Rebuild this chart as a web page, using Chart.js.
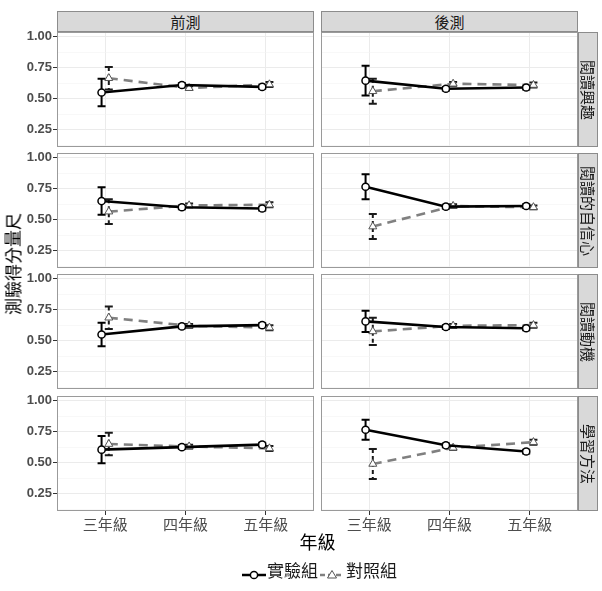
<!DOCTYPE html>
<html>
<head>
<meta charset="utf-8">
<script src="https://cdn.jsdelivr.net/npm/chart.js@4"></script>
<style>
  html, body { margin: 0; padding: 0; background: #fff; }
  #wrap { position: relative; width: 602px; height: 591px; background: #fff; overflow: hidden;
          font-family: "Noto Sans CJK TC", "Noto Sans CJK SC", sans-serif; }
  canvas { position: absolute; }
  .strip { position: absolute; box-sizing: border-box; background: #d9d9d9; border: 1px solid #8c8c8c;
           color: #1a1a1a; font-size: 15px; z-index: 2; }
  .stripTop { text-align: center; line-height: 19px; }
  .stripRight span { position: absolute; left: 50%; top: 50%; white-space: nowrap;
                     transform: translate(-50%, -50%) rotate(90deg); line-height: 1; }
  .lbl { position: absolute; white-space: nowrap; z-index: 3; }
</style>
</head>
<body>
<div id="wrap"></div>
<script>
// ---------- data ----------
const grades = ['三年級', '四年級', '五年級'];
const phases = ['前測', '後測'];
const measures = ['閱讀興趣', '閱讀的自信心', '閱讀動機', '學習方法'];
const groups = ['實驗組', '對照組'];
const yTicks = [0.25, 0.5, 0.75, 1.0];
const yTitle = '測驗得分量尺';
const xTitle = '年級';

// rows = measures, columns = grades
const expPre    = [[0.55, 0.61, 0.595], [0.65, 0.60, 0.59], [0.55, 0.615, 0.625], [0.605, 0.625, 0.645]];
const expPreSE  = [[0.11, 0.015, 0.015], [0.11, 0.015, 0.015], [0.095, 0.015, 0.015], [0.11, 0.015, 0.015]];
const ctlPre    = [[0.665, 0.585, 0.615], [0.565, 0.615, 0.62], [0.685, 0.62, 0.605], [0.65, 0.63, 0.615]];
const ctlPreSE  = [[0.09, 0.015, 0.02], [0.10, 0.015, 0.02], [0.09, 0.015, 0.02], [0.09, 0.015, 0.02]];
const expPost   = [[0.645, 0.58, 0.59], [0.765, 0.605, 0.61], [0.655, 0.61, 0.60], [0.765, 0.64, 0.59]];
const expPostSE = [[0.12, 0.015, 0.015], [0.10, 0.015, 0.015], [0.085, 0.015, 0.015], [0.08, 0.015, 0.015]];
const ctlPost   = [[0.56, 0.62, 0.61], [0.445, 0.61, 0.60], [0.575, 0.62, 0.625], [0.49, 0.62, 0.665]];
const ctlPostSE = [[0.10, 0.015, 0.02], [0.10, 0.015, 0.015], [0.11, 0.015, 0.02], [0.12, 0.015, 0.02]];

// ---------- layout ----------
const colLeft = [57, 321], plotW = 257;
const rowTop = [32, 153, 274, 396], plotH = 115;
const yAxisW = 57, xAxisH = 22, PAD = 8;
const yMin = 0.112, yMax = 1.036;
const dodge = 0.045;
const yGrid = [0.125, 0.25, 0.375, 0.5, 0.625, 0.75, 0.875, 1.0];
const isMajor = v => yTicks.some(t => Math.abs(t - v) < 1e-9);

const wrap = document.getElementById('wrap');

const errorBars = {
  id: 'errorBars',
  beforeDatasetsDraw(chart) {
    const ctx = chart.ctx, ys = chart.scales.y;
    chart.data.datasets.forEach((ds, di) => {
      const meta = chart.getDatasetMeta(di);
      meta.data.forEach((pt, i) => {
        const v = ds.data[i].y, e = ds.err[i];
        const yt = ys.getPixelForValue(v + e), yb = ys.getPixelForValue(v - e);
        ctx.save();
        ctx.strokeStyle = ds.errColor;
        ctx.lineWidth = 2;
        ctx.setLineDash(ds.errDash);
        ctx.beginPath(); ctx.moveTo(pt.x, yt); ctx.lineTo(pt.x, yb); ctx.stroke();
        ctx.setLineDash([]);
        ctx.beginPath();
        ctx.moveTo(pt.x - 4, yt); ctx.lineTo(pt.x + 4, yt);
        ctx.moveTo(pt.x - 4, yb); ctx.lineTo(pt.x + 4, yb);
        ctx.stroke();
        ctx.restore();
      });
    });
  }
};
const panelBorder = {
  id: 'panelBorder',
  afterDraw(chart) {
    const a = chart.chartArea, ctx = chart.ctx;
    ctx.save();
    ctx.strokeStyle = '#9a9a9a';
    ctx.lineWidth = 1;
    ctx.strokeRect(Math.round(a.left) + 0.5, Math.round(a.top) + 0.5, Math.round(a.right - a.left) - 1, Math.round(a.bottom - a.top) - 1);
    ctx.restore();
  }
};

function pts(vals, off) { return vals.map((v, i) => ({ x: i + 1 + off, y: v })); }

for (let r = 0; r < measures.length; r++) {
  for (let c = 0; c < phases.length; c++) {
    const showY = c === 0, showX = r === measures.length - 1;
    const cv = document.createElement('canvas');
    const left = showY ? 0 : colLeft[c];
    const width = (showY ? yAxisW : 0) + plotW;
    const top = rowTop[r] - PAD;
    const height = PAD + plotH + (showX ? xAxisH : PAD);
    cv.width = width; cv.height = height;
    cv.style.left = left + 'px'; cv.style.top = top + 'px';
    cv.style.width = width + 'px'; cv.style.height = height + 'px';
    wrap.appendChild(cv);

    const e = c === 0 ? expPre[r] : expPost[r];
    const eSE = c === 0 ? expPreSE[r] : expPostSE[r];
    const k = c === 0 ? ctlPre[r] : ctlPost[r];
    const kSE = c === 0 ? ctlPreSE[r] : ctlPostSE[r];

    new Chart(cv, {
      type: 'line',
      data: {
        datasets: [
          { label: groups[0], data: pts(e, -dodge), err: eSE, errColor: '#000', errDash: [],
            borderColor: '#000', borderWidth: 2.6, pointStyle: 'circle', pointRadius: 3.6,
            pointBackgroundColor: '#fff', pointBorderColor: '#000', pointBorderWidth: 1.5 },
          { label: groups[1], data: pts(k, dodge), err: kSE, errColor: '#1a1a1a', errDash: [4, 3],
            borderColor: '#808080', borderWidth: 2.6, borderDash: [9, 6], pointStyle: 'triangle', pointRadius: 4.6,
            pointBackgroundColor: '#fff', pointBorderColor: '#555', pointBorderWidth: 1 }
        ]
      },
      options: {
        responsive: false, animation: false, devicePixelRatio: 1,
        layout: { autoPadding: false, padding: { top: PAD, bottom: showX ? 0 : PAD, left: 0, right: 0 } },
        plugins: { legend: { display: false }, tooltip: { enabled: false } },
        scales: {
          x: {
            type: 'linear', min: 0.4, max: 3.6,
            afterBuildTicks: s => { s.ticks = grades.map((g, i) => ({ value: i + 1 })); },
            afterFit: s => { s.height = showX ? xAxisH : 0; s.paddingLeft = 0; s.paddingRight = 0; s.paddingTop = 0; s.paddingBottom = 0; },
            ticks: { display: showX, callback: v => grades[Math.round(v) - 1], color: '#4d4d4d', padding: 0,
                     maxRotation: 0, autoSkip: false,
                     font: { family: '"Noto Sans CJK TC", sans-serif', size: 15 } },
            grid: { color: '#ebebeb', lineWidth: 1, drawTicks: showX, tickLength: 4, tickColor: '#333' },
            border: { display: false }
          },
          y: {
            type: 'linear', min: yMin, max: yMax,
            afterBuildTicks: s => { s.ticks = yGrid.map(v => ({ value: v })); },
            afterFit: s => { s.width = showY ? yAxisW : 0; s.paddingLeft = 0; s.paddingRight = 0; s.paddingTop = 0; s.paddingBottom = 0; },
            ticks: { display: showY, autoSkip: false, callback: v => isMajor(v) ? v.toFixed(2) : '', color: '#4d4d4d', padding: 1,
                     font: { family: '"Liberation Sans", Arial, sans-serif', size: 13, weight: 'bold' } },
            grid: { color: ctx => isMajor(ctx.tick.value) ? '#ebebeb' : '#f4f4f4',
                    lineWidth: ctx => isMajor(ctx.tick.value) ? 1 : 0.6,
                    drawTicks: showY, tickLength: 4,
                    tickColor: ctx => isMajor(ctx.tick.value) ? '#333' : 'rgba(0,0,0,0)' },
            border: { display: false }
          }
        }
      },
      plugins: [errorBars, panelBorder]
    });
  }
}

// strips
phases.forEach((p, c) => {
  const d = document.createElement('div');
  d.className = 'strip stripTop';
  d.style.left = colLeft[c] + 'px'; d.style.top = '11px';
  d.style.width = plotW + 'px'; d.style.height = '21px';
  d.textContent = p;
  wrap.appendChild(d);
});
measures.forEach((m, r) => {
  const d = document.createElement('div');
  d.className = 'strip stripRight';
  d.style.left = (colLeft[1] + plotW) + 'px'; d.style.top = rowTop[r] + 'px';
  d.style.width = '20px'; d.style.height = plotH + 'px';
  const s = document.createElement('span');
  s.textContent = m;
  d.appendChild(s);
  wrap.appendChild(d);
});

// axis titles
function label(text, cx, cy, size, color, rot) {
  const d = document.createElement('div');
  d.className = 'lbl';
  d.textContent = text;
  d.style.fontSize = size + 'px';
  d.style.color = color;
  d.style.lineHeight = '1';
  d.style.left = cx + 'px'; d.style.top = cy + 'px';
  d.style.transform = 'translate(-50%, -50%)' + (rot ? ' rotate(' + rot + 'deg)' : '');
  wrap.appendChild(d);
  return d;
}
label(yTitle, 12, 264, 17, '#000', -90);
label(xTitle, 317.5, 540.5, 18, '#000', 0);

// legend
const legendSvg = [
  '<svg width="24" height="14" viewBox="0 0 24 14"><line x1="0" y1="7" x2="24" y2="7" stroke="#000" stroke-width="2.5"/><circle cx="12" cy="7" r="3.6" fill="#fff" stroke="#000" stroke-width="1.5"/></svg>',
  '<svg width="24" height="14" viewBox="0 0 24 14"><line x1="0" y1="7" x2="24" y2="7" stroke="#808080" stroke-width="2.5" stroke-dasharray="5 3"/><polygon points="12,2.5 16.5,10 7.5,10" fill="#fff" stroke="#555" stroke-width="1"/></svg>'
];
const legX = [[242, 267], [320, 346]];
groups.forEach((g, i) => {
  const s = document.createElement('div');
  s.className = 'lbl';
  s.style.left = legX[i][0] + 'px'; s.style.top = '563px';
  s.innerHTML = legendSvg[i];
  wrap.appendChild(s);
  const t = document.createElement('div');
  t.className = 'lbl';
  t.textContent = g;
  t.style.fontSize = '17px'; t.style.color = '#1a1a1a'; t.style.lineHeight = '1';
  t.style.left = legX[i][1] + 'px'; t.style.top = '561px';
  wrap.appendChild(t);
});
</script>
</body>
</html>
